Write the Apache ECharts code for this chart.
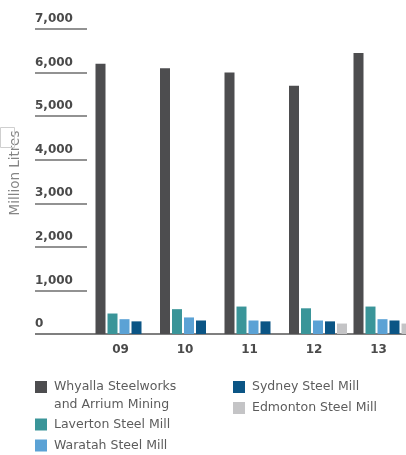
<!DOCTYPE html>
<html>
<head>
<meta charset="utf-8">
<script src="https://cdn.jsdelivr.net/npm/echarts@6/dist/echarts.min.js"></script>
<style>
html,body{margin:0;padding:0;background:#fff;}
#c{width:406px;height:455px;}
</style>
</head>
<body>
<div id="c"></div>
<script>
var categories = ['09', '10', '11', '12', '13'];
var seriesNames = ['Whyalla Steelworks\nand Arrium Mining', 'Laverton Steel Mill', 'Waratah Steel Mill', 'Sydney Steel Mill', 'Edmonton Steel Mill'];
var whyalla = [6200, 6100, 6000, 5700, 6450];
var laverton = [470, 570, 630, 590, 630];
var waratah = [340, 380, 310, 310, 340];
var sydney = [290, 310, 290, 290, 310];
var edmonton = [null, null, null, 240, 240];
var yTicks = [0, 1000, 2000, 3000, 4000, 5000, 6000, 7000];
var axisTitle = 'Million Litres';

var colors = ['#4d4d4f', '#3a9599', '#5ba2d5', '#0b5585', '#c4c4c6'];
var values = [whyalla, laverton, waratah, sydney, edmonton];

var chart = echarts.init(document.getElementById('c'), null, {renderer: 'canvas'});
var series = values.map(function (v, i) {
  return {
    name: seriesNames[i],
    type: 'bar',
    data: v,
    barWidth: 10,
    barGap: '20%',
    itemStyle: {color: colors[i]},
    silent: true
  };
});

function legendFormatter(name) {
  // multi-line entries: blank first line so the first text line sits beside the swatch
  return name.indexOf('\n') >= 0 ? ' \n' + name : name;
}
var legendText = {color: '#5c5c5c', fontSize: 12.5, fontFamily: 'DejaVu Sans', lineHeight: 21, padding: [0, 0, 0, 2]};

chart.setOption({
  animation: false,
  backgroundColor: '#fff',
  textStyle: {fontFamily: 'DejaVu Sans'},
  grid: {left: 92.25, width: 322.5, top: 29, bottom: 121, containLabel: false, outerBoundsMode: 'none'},
  xAxis: {
    type: 'category',
    data: categories,
    axisLine: {show: true, lineStyle: {color: '#7f7f7f', width: 2}},
    axisTick: {show: false},
    axisLabel: {
      color: '#4a4a4a', fontWeight: 'bold', fontSize: 12, fontFamily: 'DejaVu Sans',
      margin: 10, padding: [0, 8, 0, 0]
    }
  },
  yAxis: [{
    type: 'value',
    min: yTicks[0], max: yTicks[yTicks.length - 1], interval: 1000,
    position: 'left',
    offset: 57.25,
    axisLine: {show: false},
    splitLine: {show: false},
    axisTick: {show: true, inside: true, length: 52, lineStyle: {color: '#6f6f6f', width: 1.5}},
    axisLabel: {
      inside: true, margin: 0, color: '#4a4a4a', fontWeight: 'bold', fontSize: 12,
      fontFamily: 'DejaVu Sans', verticalAlign: 'bottom', align: 'left', padding: [0, 0, 4, 0],
      formatter: function (v) { return v.toLocaleString('en-US'); }
    }
  }, {
    type: 'value',
    min: yTicks[0], max: yTicks[yTicks.length - 1], interval: 1000,
    position: 'left',
    offset: 57.25,
    axisLine: {show: false},
    splitLine: {show: false},
    axisLabel: {show: false},
    axisTick: {show: true, inside: true, length: 58, customValues: [0], lineStyle: {color: '#7f7f7f', width: 2}}
  }],
  legend: [{
    orient: 'vertical',
    left: 35, top: 360,
    padding: 0,
    itemWidth: 12, itemHeight: 12, itemGap: 0,
    icon: 'rect',
    selectedMode: false,
    formatter: legendFormatter,
    textStyle: legendText,
    data: [
      {name: seriesNames[0], textStyle: {lineHeight: 18, padding: [0, 0, 0, 2]}},
      seriesNames[1], seriesNames[2]
    ]
  }, {
    orient: 'vertical',
    left: 233, top: 376.5,
    padding: 0,
    itemWidth: 12, itemHeight: 12, itemGap: 0,
    icon: 'rect',
    selectedMode: false,
    formatter: legendFormatter,
    textStyle: legendText,
    data: [seriesNames[3], seriesNames[4]]
  }],
  graphic: [{
    type: 'text',
    x: 15, y: 173,
    rotation: Math.PI / 2,
    style: {text: axisTitle, fill: '#858585', font: '13.5px "DejaVu Sans"', align: 'center', verticalAlign: 'middle'}
  }, {
    type: 'rect',
    shape: {x: 0.5, y: 127.5, width: 14, height: 20},
    style: {fill: 'none', stroke: '#cfcfcf', lineWidth: 1}
  }],
  series: series
});
</script>
</body>
</html>
